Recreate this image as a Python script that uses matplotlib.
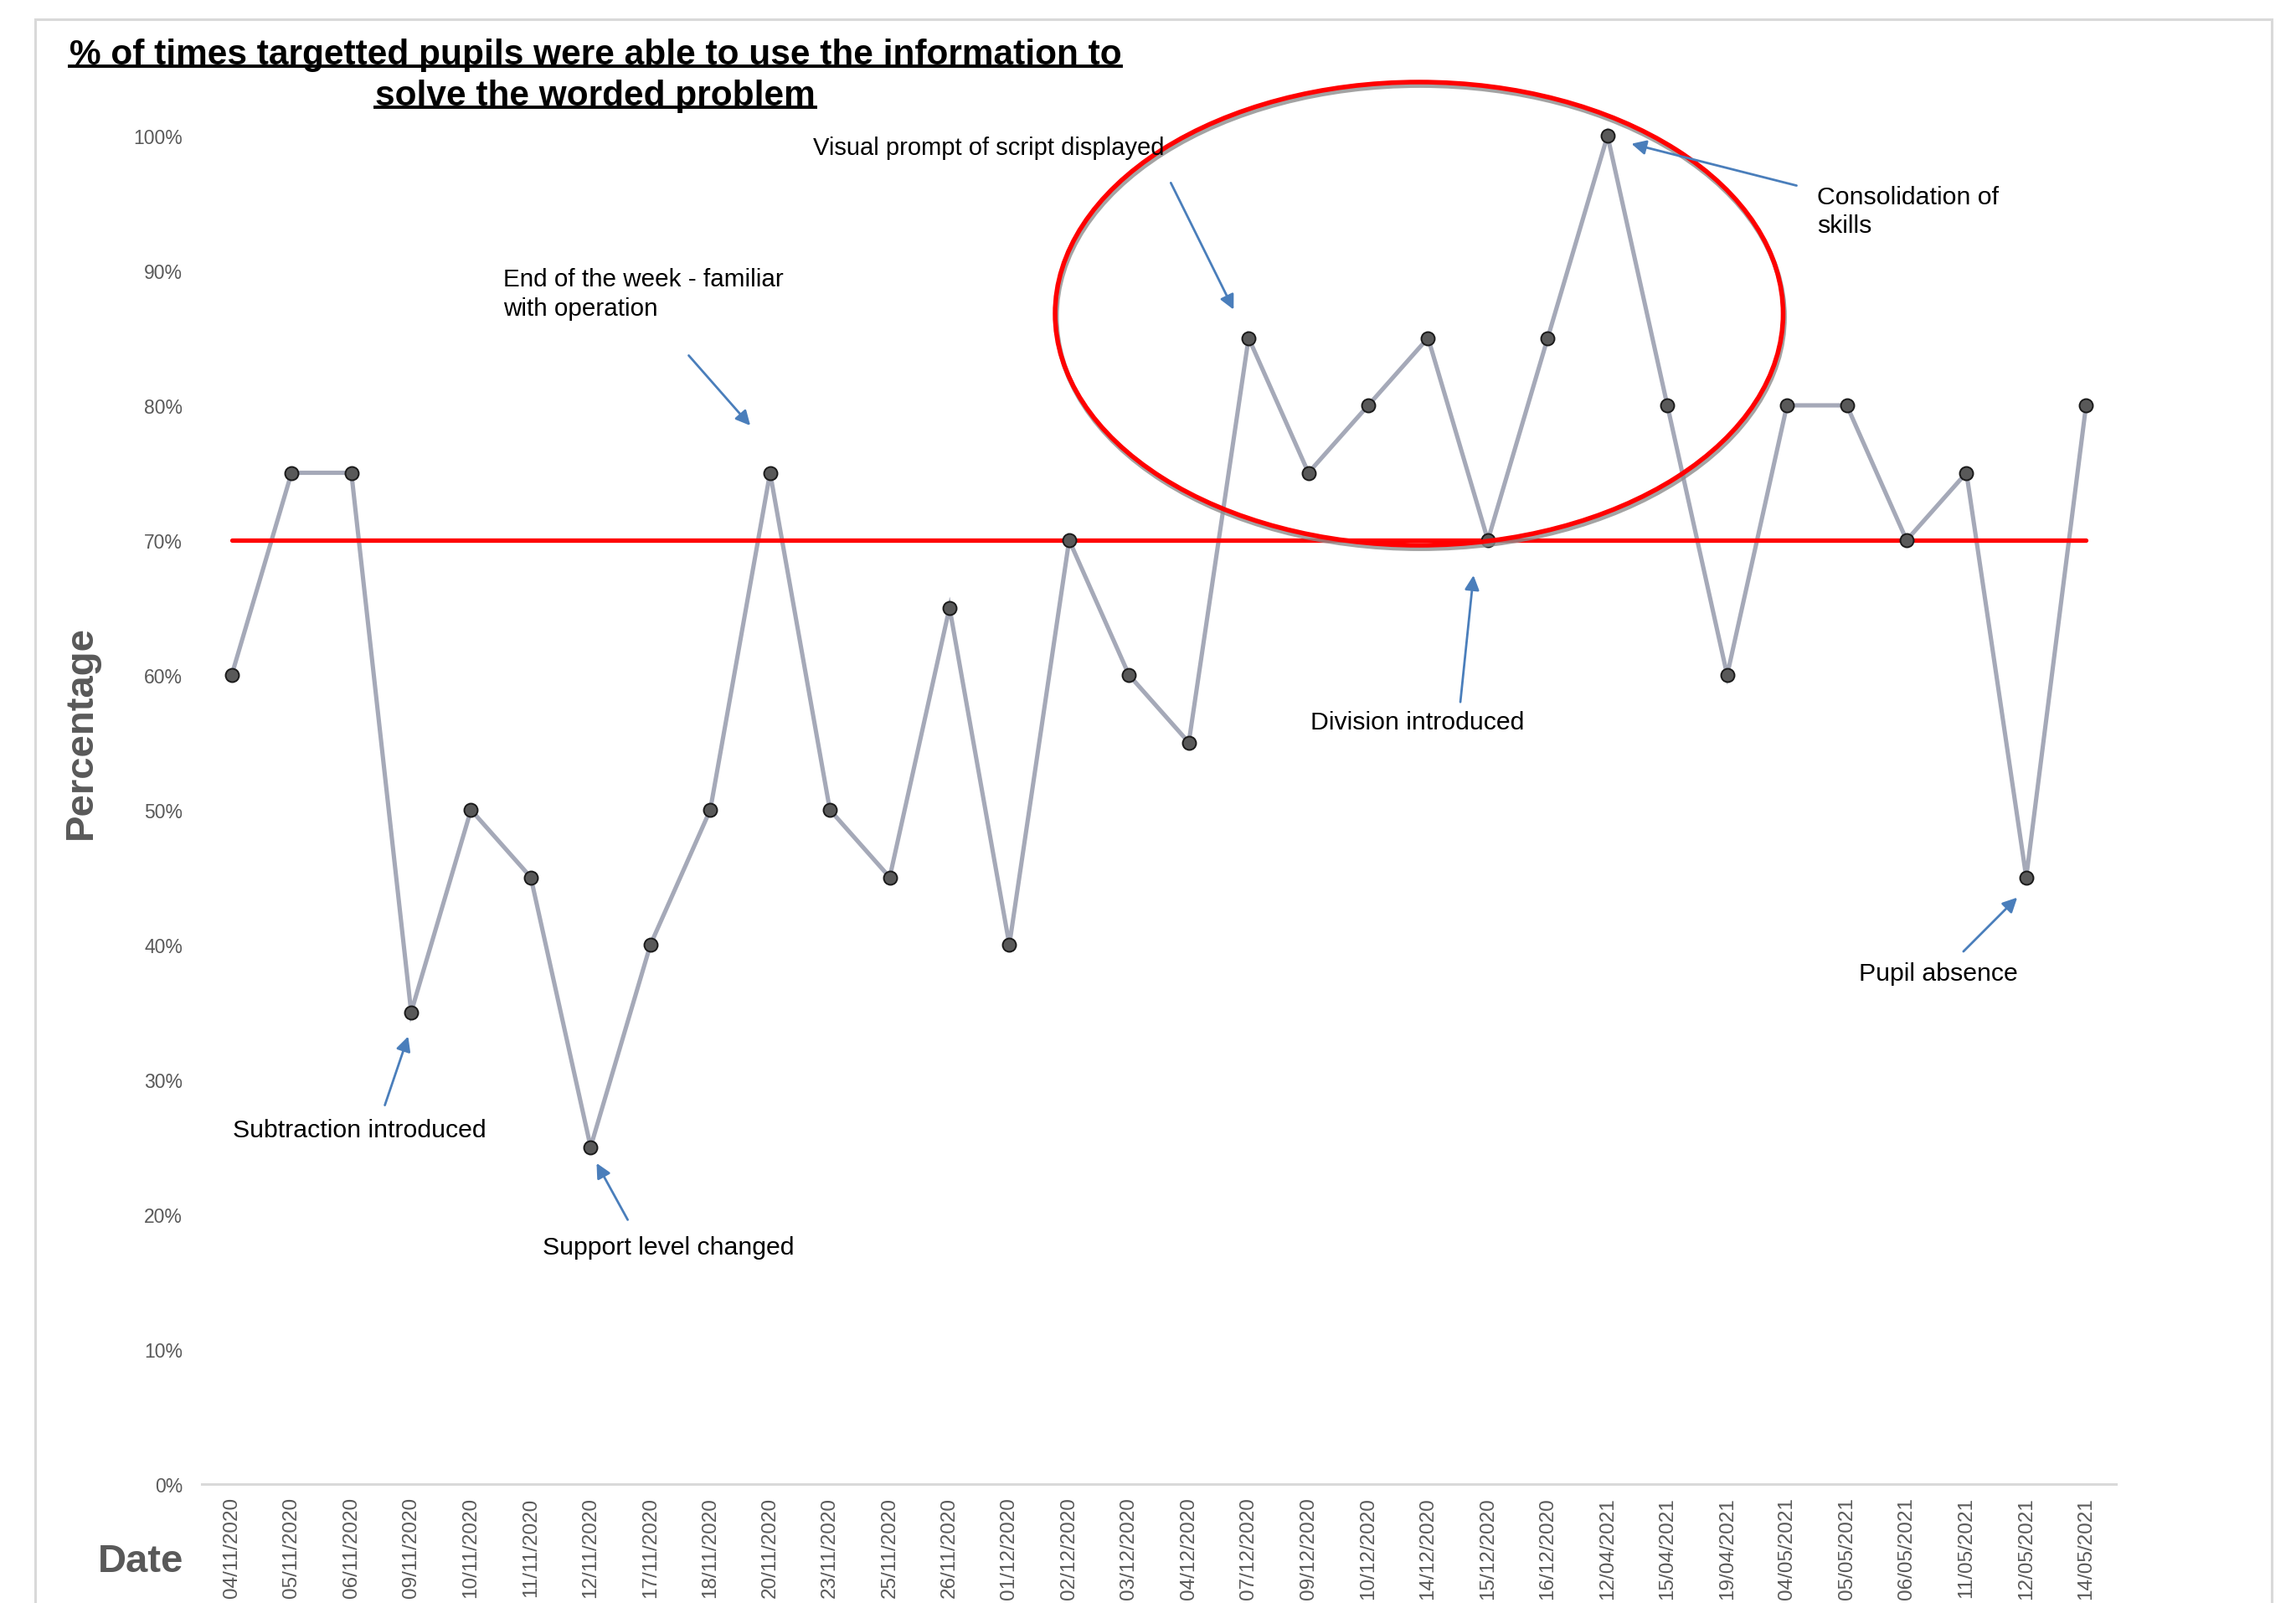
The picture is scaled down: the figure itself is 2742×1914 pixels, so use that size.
import matplotlib
matplotlib.use("Agg")
import matplotlib.pyplot as plt
from matplotlib.patches import Ellipse, Rectangle
from matplotlib.lines import Line2D
import matplotlib.transforms as mtransforms

plt.rcParams['font.family'] = ['Liberation Sans', 'DejaVu Sans']

dates = ["04/11/2020", "05/11/2020", "06/11/2020", "09/11/2020", "10/11/2020",
         "11/11/2020", "12/11/2020", "17/11/2020", "18/11/2020", "20/11/2020",
         "23/11/2020", "25/11/2020", "26/11/2020", "01/12/2020", "02/12/2020",
         "03/12/2020", "04/12/2020", "07/12/2020", "09/12/2020", "10/12/2020",
         "14/12/2020", "15/12/2020", "16/12/2020", "12/04/2021", "15/04/2021",
         "19/04/2021", "04/05/2021", "05/05/2021", "06/05/2021", "11/05/2021",
         "12/05/2021", "14/05/2021"]
percentages = [60, 75, 75, 35, 50, 45, 25, 40, 50, 75,
               50, 45, 65, 40, 70, 60, 55, 85, 75, 80,
               85, 70, 85, 100, 80, 60, 80, 80, 70, 75,
               45, 80]
target = 70
y_ticks = [0, 10, 20, 30, 40, 50, 60, 70, 80, 90, 100]
y_tick_labels = [f"{v}%" for v in y_ticks]

title_lines = ["% of times targetted pupils were able to use the information to",
               "solve the worded problem"]

W, H = 2742, 1915
fig = plt.figure(figsize=(W / 100, H / 100), dpi=100)
fig.patch.set_facecolor('white')

# outer chart border
fig.patches.append(Rectangle((42 / W, -0.02), (2713 - 42) / W, 1 - 24 / H + 0.02,
                             transform=fig.transFigure, fill=False,
                             edgecolor='#d9d9d9', lw=2.2, zorder=0))

ax = fig.add_axes([241 / W, (H - 1773) / H, (2527 - 241) / W, (1773 - 163) / H])
x = list(range(len(dates)))

ax.plot(x, percentages, color='#A5A9B8', lw=3.7, zorder=3,
        solid_joinstyle='miter', clip_on=False)
ax.plot([x[0], x[-1]], [target, target], color='#FF0000', lw=3.8,
        solid_capstyle='round', zorder=4)
ax.plot(x, percentages, linestyle='none', zorder=5, clip_on=False,
        marker='o', markersize=11.5, markerfacecolor='#595959',
        markeredgecolor='#1a1a1a', markeredgewidth=1.4)

ax.set_xlim(-0.5, len(dates) - 0.5)
ax.set_ylim(0, 100)
ax.set_yticks(y_ticks)
ax.set_yticklabels(y_tick_labels)
ax.set_xticks(x)
ax.set_xticklabels(dates, rotation=90)
ax.tick_params(axis='y', length=0, pad=16.5, labelsize=16.5, labelcolor='#595959')
ax.tick_params(axis='x', length=0, pad=11, labelsize=17.5, labelcolor='#595959')
for s in ['top', 'right', 'left']:
    ax.spines[s].set_visible(False)
ax.spines['bottom'].set_color('#d9d9d9')
ax.spines['bottom'].set_linewidth(2.2)

# ellipse highlight with shadow
shadow_tr = mtransforms.offset_copy(ax.transData, fig=fig, x=1.5, y=-4, units='dots')
ax.add_patch(Ellipse((19.85, 86.8), 12.17, 34.35, fill=False, edgecolor='#8c8c8c',
                     lw=4.2, transform=shadow_tr, zorder=6, clip_on=False, alpha=0.8))
ax.add_patch(Ellipse((19.85, 86.8), 12.17, 34.35, fill=False, edgecolor='#FF0000',
                     lw=4.0, zorder=7, clip_on=False))

# annotations
acol = '#4A7EBB'
afs = 21.8
def arrow(tail, head):
    ax.annotate('', xy=head, xytext=tail,
                arrowprops=dict(arrowstyle='-|>', color=acol, lw=2.0,
                                mutation_scale=26, shrinkA=0, shrinkB=0),
                annotation_clip=False, zorder=8)

ax.text(9.72, 99.1, "Visual prompt of script displayed", fontsize=21,
        ha='left', va='center', zorder=9)
arrow((15.70, 96.5), (16.75, 87.1))

ax.text(4.54, 88.3, "End of the week - familiar\nwith operation", fontsize=21.3,
        ha='left', va='center', linespacing=1.3, zorder=9)
arrow((7.64, 83.7), (8.67, 78.5))

ax.text(26.5, 94.4, "Consolidation of\nskills", fontsize=afs,
        ha='left', va='center', linespacing=1.3, zorder=9)
arrow((26.16, 96.3), (23.40, 99.4))

ax.text(19.82, 56.5, "Division introduced", fontsize=afs,
        ha='center', va='center', zorder=9)
arrow((20.54, 58.0), (20.76, 67.4))

ax.text(2.14, 26.3, "Subtraction introduced", fontsize=afs,
        ha='center', va='center', zorder=9)
arrow((2.56, 28.1), (2.95, 33.2))

ax.text(7.30, 17.6, "Support level changed", fontsize=afs,
        ha='center', va='center', zorder=9)
arrow((6.62, 19.6), (6.10, 23.8))

ax.text(28.53, 37.9, "Pupil absence", fontsize=afs,
        ha='center', va='center', zorder=9)
arrow((28.95, 39.5), (29.85, 43.5))

# axis titles
fig.text(97 / W, 1 - 875 / H, "Percentage", rotation=90, ha='center', va='center',
         fontsize=34, fontweight='bold', color='#595959')
fig.text(168 / W, 1 - 1865 / H, "Date", ha='center', va='center',
         fontsize=34, fontweight='bold', color='#595959')

# title with underline
t1 = fig.text(711 / W, 1 - 66 / H, title_lines[0], ha='center', va='center',
              fontsize=30.5, fontweight='bold', color='black')
t2 = fig.text(711 / W, 1 - 115 / H, title_lines[1], ha='center', va='center',
              fontsize=30.5, fontweight='bold', color='black')
fig.canvas.draw()
r = fig.canvas.get_renderer()
for t in (t1, t2):
    bb = t.get_window_extent(renderer=r)
    yline = bb.y0 + 6
    fig.lines.append(Line2D([bb.x0 / W, bb.x1 / W], [yline / H, yline / H],
                            transform=fig.transFigure, color='black', lw=2.8))

fig.savefig("out.png", dpi=100, facecolor='white')
